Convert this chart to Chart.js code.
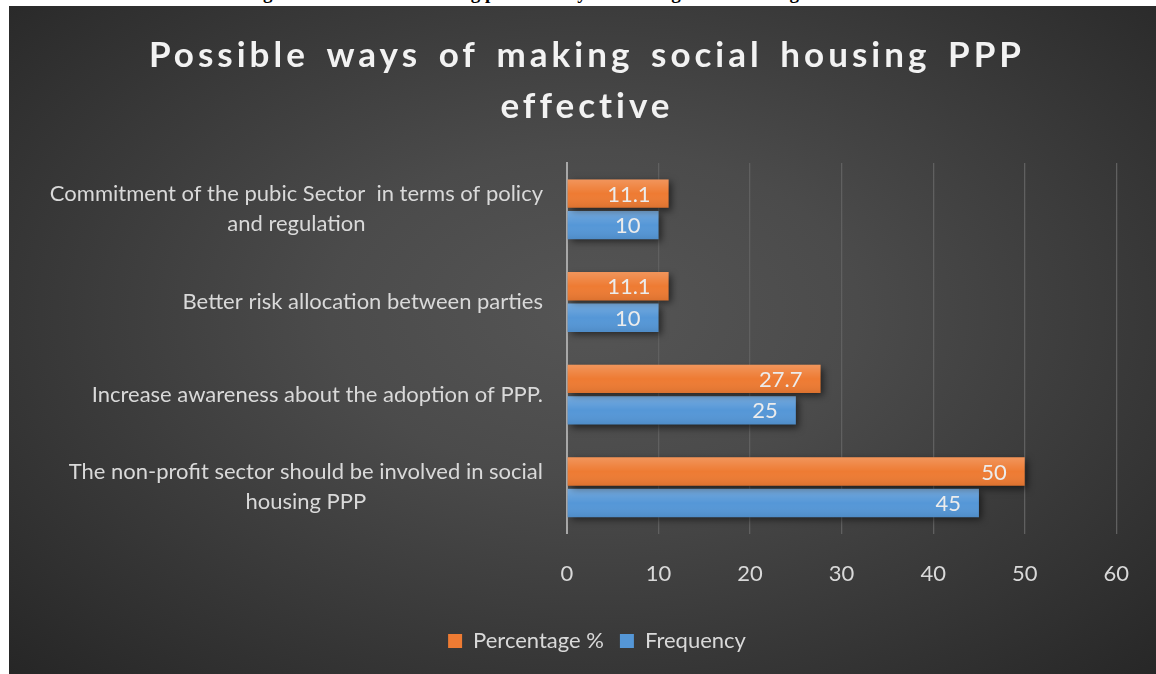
<!DOCTYPE html>
<html><head><meta charset="utf-8">
<script src="https://cdn.jsdelivr.net/npm/chart.js@4.4.1/dist/chart.umd.min.js"></script>
<style>
html,body{margin:0;padding:0;background:#fff;width:1156px;height:674px;overflow:hidden;}
#cap{position:absolute;left:0;top:-18px;width:1156px;text-align:center;font:bold 19px "Liberation Serif";color:#000;white-space:nowrap;}
#panel{position:absolute;left:9px;top:6px;width:1147px;height:668px;background:radial-gradient(ellipse farthest-corner at 51% 46%, #555555 0%, #4b4b4b 32%, #262626 100%);}
#wrap{position:absolute;left:0;top:0;width:1156px;height:674px;}
</style></head>
<body>
<div id="cap">Figure: Alternatives showing possible ways of making social housing PPP effective</div>
<div id="panel"></div>
<div id="wrap"><canvas id="c" width="1156" height="674"></canvas></div>
<script>
const titleLines = ["Possible ways of making social housing PPP", "effective"];
const categories = [
  ["Commitment of the pubic Sector  in terms of policy", "and regulation"],
  ["Better risk allocation between parties"],
  ["Increase awareness about the adoption of PPP."],
  ["The non-profit sector should be involved in social", "housing PPP"]
];
const percentage = [11.1, 11.1, 27.7, 50];
const frequency = [10, 10, 25, 45];
const seriesNames = ["Percentage %", "Frequency"];
const xTicks = [0, 10, 20, 30, 40, 50, 60];

const FONT = "Lato";
const TXT = "#d9d9d9";

const decor = {
  id: "decor",
  beforeDatasetsDraw(chart) {
    const ctx = chart.ctx;
    ctx.save();
    ctx.shadowColor = "rgba(0,0,0,0.55)";
    ctx.shadowBlur = 7;
    ctx.shadowOffsetX = 3;
    ctx.shadowOffsetY = 3;
  },
  afterDatasetsDraw(chart) {
    const ctx = chart.ctx;
    ctx.restore();
    chart.data.datasets.forEach((ds, di) => {
      const meta = chart.getDatasetMeta(di);
      meta.data.forEach((el, i) => {
        const p = el.getProps(["x", "y", "base", "height"], true);
        const left = Math.min(p.x, p.base), w = Math.abs(p.x - p.base);
        const top = p.y - p.height / 2;
        const g = ctx.createLinearGradient(0, top, 0, top + p.height);
        g.addColorStop(0, "rgba(255,255,255,0.20)");
        g.addColorStop(0.5, "rgba(255,255,255,0.0)");
        g.addColorStop(1, "rgba(0,0,0,0.08)");
        ctx.save();
        ctx.fillStyle = g;
        ctx.fillRect(left, top, w, p.height);
        ctx.fillStyle = "#ececec";
        ctx.font = "22px " + FONT;
        ctx.textAlign = "right";
        ctx.textBaseline = "middle";
        ctx.fillText(String(ds.data[i]), p.x - 18, p.y + 1);
        ctx.restore();
      });
    });
  },
  afterDraw(chart) {
    const ctx = chart.ctx;
    const ys = chart.scales.y;
    const right = chart.chartArea.left - 24;
    ctx.save();
    ctx.fillStyle = TXT;
    ctx.font = "22px " + FONT;
    ctx.textBaseline = "middle";
    ctx.textAlign = "center";
    categories.forEach((lines, i) => {
      const cy = ys.getPixelForTick(i);
      const maxW = Math.max(...lines.map(l => ctx.measureText(l).width));
      const cx = right - maxW / 2;
      const lh = 30;
      lines.forEach((l, k) => {
        ctx.fillText(l, cx, cy + (k - (lines.length - 1) / 2) * lh);
      });
    });
    // title
    ctx.fillStyle = "#f2f2f2";
    ctx.font = "bold 35px " + FONT;
    const ls = 4;
    ctx.letterSpacing = ls + "px";
    ctx.wordSpacing = "0px";
    const w0 = ctx.measureText(titleLines[0]).width;
    const words = titleLines[0].split(" ").length - 1;
    const ws = Math.max(0, (872 + ls - w0) / words);
    ctx.wordSpacing = ws + "px";
    ctx.textAlign = "center";
    ctx.textBaseline = "alphabetic";
    const tx = 585 + ls / 2;
    ctx.fillText(titleLines[0], tx, 67);
    ctx.fillText(titleLines[1], tx, 118);
    ctx.restore();
  }
};

new Chart(document.getElementById("c"), {
  type: "bar",
  data: {
    labels: categories,
    datasets: [
      { label: seriesNames[0], data: percentage, backgroundColor: "#ee7b33", borderWidth: 0 },
      { label: seriesNames[1], data: frequency, backgroundColor: "#5597d7", borderWidth: 0 }
    ]
  },
  options: {
    indexAxis: "y",
    responsive: false,
    animation: false,
    devicePixelRatio: 1,
    categoryPercentage: 0.68,
    barPercentage: 0.9,
    layout: { padding: { left: 60, right: 22, top: 163, bottom: 12 } },
    scales: {
      x: {
        min: 0, max: 60,
        afterBuildTicks(scale) { scale.ticks = xTicks.map(v => ({ value: v })); },
        grid: { color: "#606060", lineWidth: 1.3, drawTicks: false },
        border: { display: false },
        ticks: { color: TXT, font: { family: FONT, size: 22 }, padding: 27 }
      },
      y: {
        afterFit(scale) { scale.width = 507; },
        grid: { display: false },
        border: { display: true, color: "#a8a8a8", width: 2 },
        ticks: { display: false }
      }
    },
    plugins: {
      legend: {
        position: "bottom",
        labels: { color: TXT, font: { family: FONT, size: 22 }, boxWidth: 14, boxHeight: 14, padding: 16 }
      },
      tooltip: { enabled: false },
      title: { display: false }
    }
  },
  plugins: [decor]
});
</script>
</body></html>
